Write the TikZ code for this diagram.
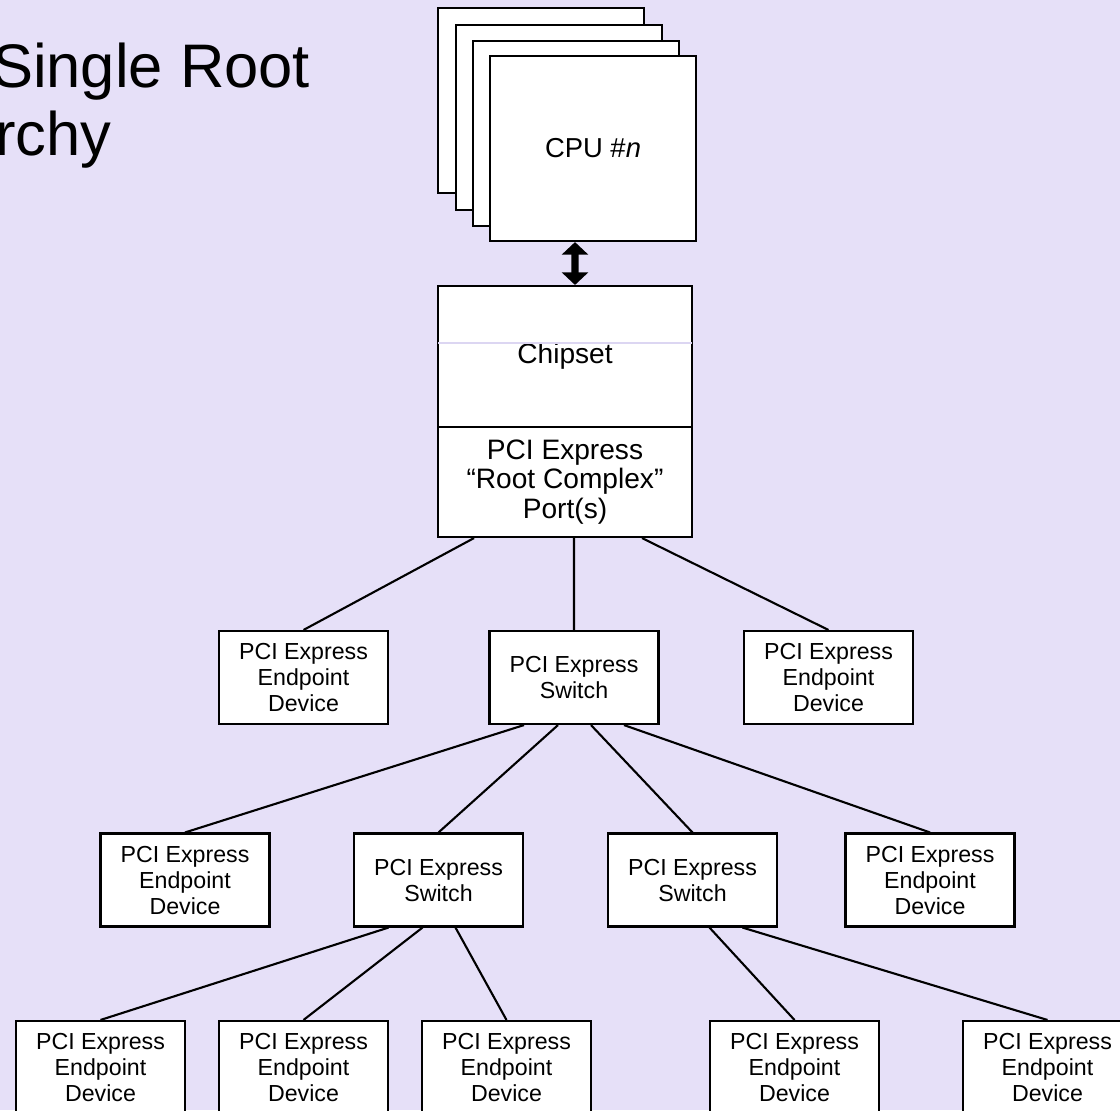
\documentclass[tikz,border=0pt]{standalone}
\usepackage{fontspec}
\setmainfont{Liberation Sans}
\usetikzlibrary{arrows.meta}
\definecolor{myLilac}{HTML}{E6E0F8}
\definecolor{myFaint}{HTML}{DCD6F2}

\begin{document}
\begin{tikzpicture}[line width=0.6pt]

  \tikzstyle{CPU}=[rectangle,draw,fill=white,minimum width=2.06cm,minimum height=1.85cm,inner sep=0pt,font=\fontsize{7.8}{9}\selectfont]
  \tikzstyle{CHIP}=[rectangle,draw,fill=white,minimum width=2.54cm,inner sep=0pt,align=center,font=\fontsize{8}{8.3}\selectfont]
  \tikzstyle{DEV}=[rectangle,draw,fill=white,minimum width=1.69cm,minimum height=0.93cm,inner sep=0pt,align=center,font=\fontsize{6.6}{7.4}\selectfont]
  \tikzstyle{T}=[anchor=base west,inner sep=0pt,font=\fontsize{17.5}{20}\selectfont]
  \tikzstyle{BUS}=[{Triangle[width=7.4pt,length=3.6pt]}-{Triangle[width=7.4pt,length=3.6pt]},line width=2pt]

  \useasboundingbox (0,0) rectangle (11.2,-11.1);
  \fill[myLilac] (0,0) rectangle (11.2,-11.1);

  % title, cut at the left edge
  \node[T] at (-0.09,-0.87) (title1) {Single Root};
  \node[T] at (-0.06,-1.55) (title2) {rchy};

  % stack of cpus
  \node[CPU] at (5.41,-1.005) (cpu1) {};
  \node[CPU] at (5.59,-1.175) (cpu2) {};
  \node[CPU] at (5.76,-1.335) (cpu3) {};
  \node[CPU] at (5.93,-1.485) (cpun) {CPU \#\textit{n}};

  \node[CHIP,minimum height=1.41cm] at (5.65,-3.565) (chip) {Chipset};
  \node[CHIP,minimum height=1.10cm] at (5.65,-4.82) (rc) {PCI Express\\“Root Complex”\\Port(s)};
  \draw[myFaint,line width=0.3pt,shorten <=0.35pt,shorten >=0.35pt] ([yshift=1.35mm]chip.west) -- ([yshift=1.35mm]chip.east);

  \draw[BUS] ([xshift=-1.8mm]cpun.south) -- ([xshift=1mm]chip.north);

  % first level
  \node[DEV] at (3.035,-6.775) (ep1) {PCI Express\\Endpoint\\Device};
  \node[DEV] at (5.74,-6.775) (sw1) {PCI Express\\Switch};
  \node[DEV] at (8.285,-6.775) (ep2) {PCI Express\\Endpoint\\Device};

  \draw ([xshift=-9.1mm]rc.south) -- (ep1.north);
  \draw ([xshift=0.9mm]rc.south) -- (sw1.north);
  \draw ([xshift=7.7mm]rc.south) -- (ep2.north);

  % second level
  \node[DEV] at (1.85,-8.80) (ep3) {PCI Express\\Endpoint\\Device};
  \node[DEV] at (4.385,-8.80) (sw2) {PCI Express\\Switch};
  \node[DEV] at (6.925,-8.80) (sw3) {PCI Express\\Switch};
  \node[DEV] at (9.30,-8.80) (ep4) {PCI Express\\Endpoint\\Device};

  \draw ([xshift=-5mm]sw1.south) -- (ep3.north);
  \draw ([xshift=-1.6mm]sw1.south) -- (sw2.north);
  \draw ([xshift=1.7mm]sw1.south) -- (sw3.north);
  \draw ([xshift=5mm]sw1.south) -- (ep4.north);

  % third level
  \node[DEV] at (1.005,-10.675) (ep5) {PCI Express\\Endpoint\\Device};
  \node[DEV] at (3.035,-10.675) (ep6) {PCI Express\\Endpoint\\Device};
  \node[DEV] at (5.065,-10.675) (ep7) {PCI Express\\Endpoint\\Device};
  \node[DEV] at (7.945,-10.675) (ep8) {PCI Express\\Endpoint\\Device};
  \node[DEV] at (10.475,-10.675) (ep9) {PCI Express\\Endpoint\\Device};

  \draw ([xshift=-5mm]sw2.south) -- (ep5.north);
  \draw ([xshift=-1.6mm]sw2.south) -- (ep6.north);
  \draw ([xshift=1.7mm]sw2.south) -- (ep7.north);
  \draw ([xshift=1.7mm]sw3.south) -- (ep8.north);
  \draw ([xshift=5mm]sw3.south) -- (ep9.north);

\end{tikzpicture}
\end{document}
